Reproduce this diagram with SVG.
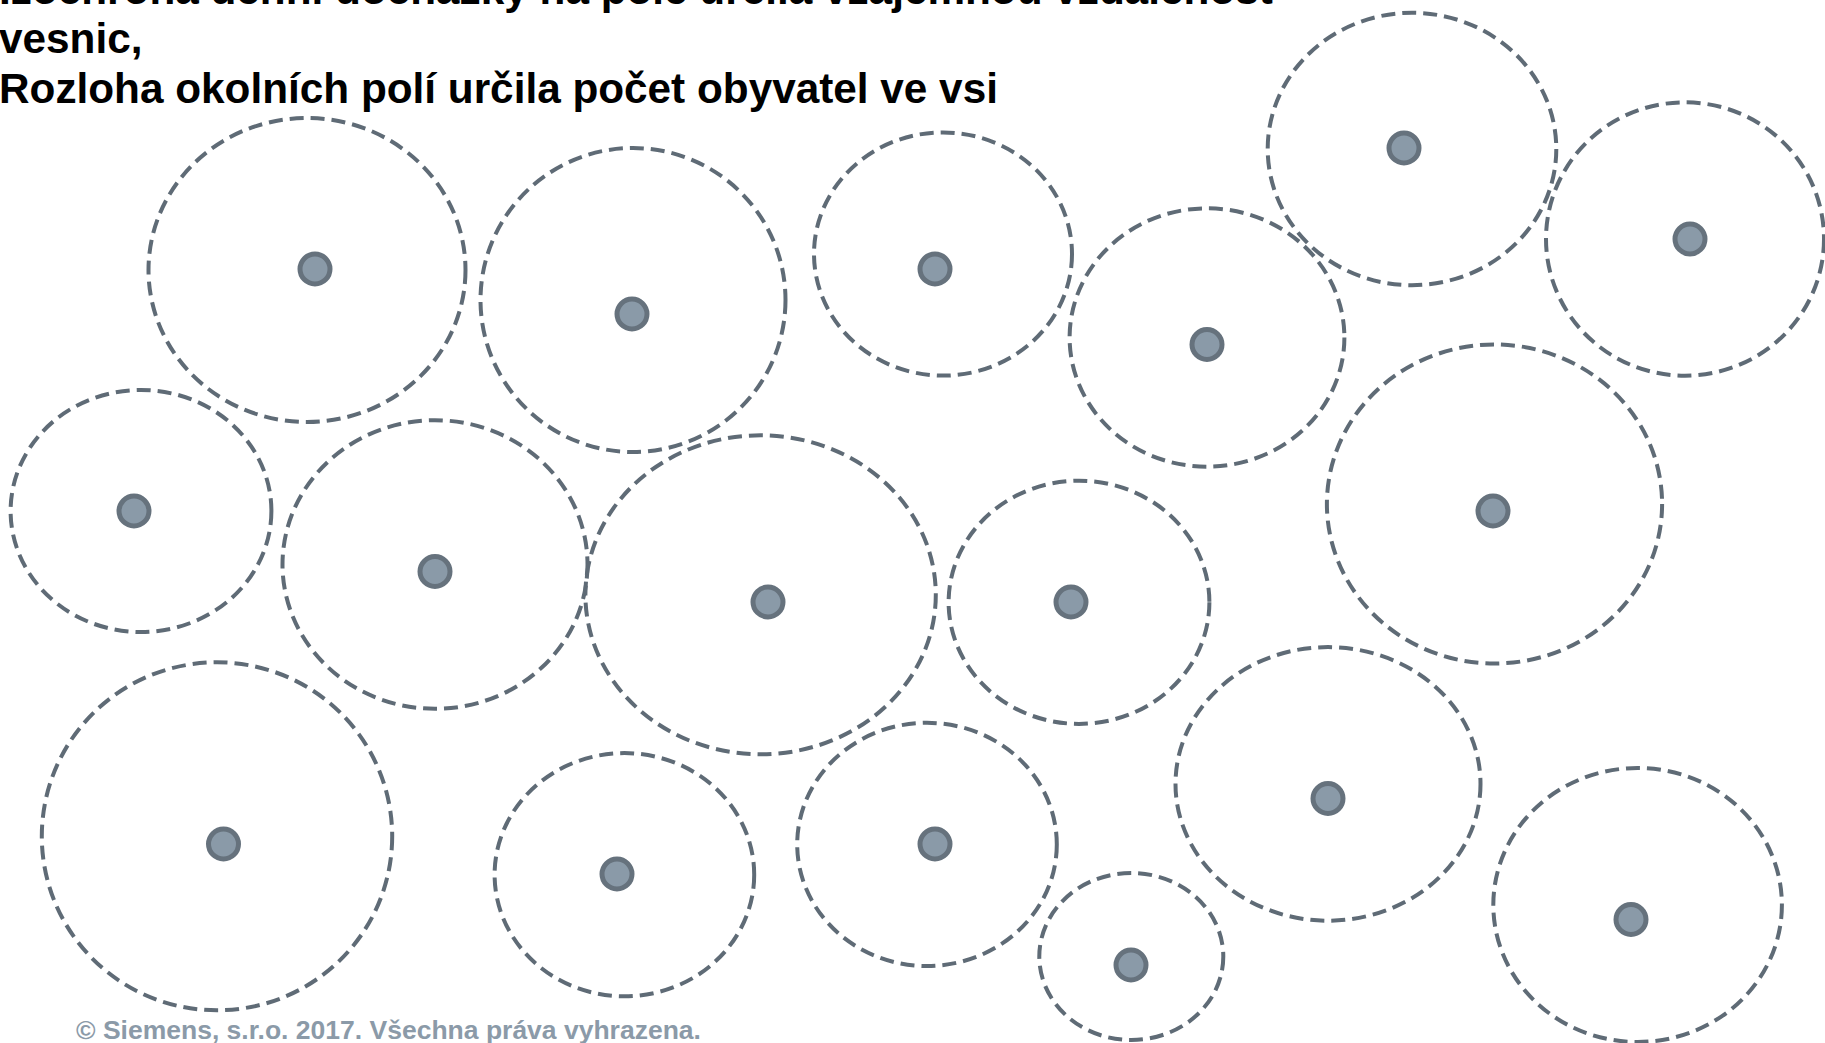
<svg xmlns="http://www.w3.org/2000/svg" width="1825" height="1043" viewBox="0 0 1825 1043">
<style>
.title{font-family:"Liberation Sans",Arial,sans-serif;font-weight:bold;font-size:42.3px;fill:#000}
.foot{font-family:"Liberation Sans",Arial,sans-serif;font-weight:bold;font-size:26.5px;fill:#8b9aa8}
.field{fill:none;stroke:#5f6b76;stroke-width:4;stroke-dasharray:14 7}
.vil{fill:#8a9aa8;stroke:#66727d;stroke-width:5}
</style>
<rect width="1825" height="1043" fill="#fff"/>
<g id="title">
<text class="title" x="-1" y="4">Izochrona denní docházky na pole určila vzájemnou vzdálenost</text>
<text class="title" x="-1" y="53">vesnic,</text>
<text class="title" x="-1" y="103">Rozloha okolních polí určila počet obyvatel ve vsi</text>
</g>
<g id="village1"><ellipse class="field" cx="307" cy="270" rx="158.5" ry="152"/><circle class="vil" cx="315" cy="269" r="15"/></g>
<g id="village2"><ellipse class="field" cx="633" cy="300" rx="152.5" ry="152"/><circle class="vil" cx="632" cy="314" r="15"/></g>
<g id="village3"><ellipse class="field" cx="943" cy="254" rx="129" ry="121.6"/><circle class="vil" cx="935" cy="269" r="15"/></g>
<g id="village4"><ellipse class="field" cx="1207" cy="337.5" rx="137.4" ry="129.2"/><circle class="vil" cx="1207" cy="344.5" r="15"/></g>
<g id="village5"><ellipse class="field" cx="1412" cy="149" rx="144.3" ry="136.2"/><circle class="vil" cx="1404" cy="148" r="15"/></g>
<g id="village6"><ellipse class="field" cx="1685" cy="239" rx="139" ry="136.7"/><circle class="vil" cx="1690" cy="239" r="15"/></g>
<g id="village7"><ellipse class="field" cx="141" cy="511" rx="130.4" ry="121"/><circle class="vil" cx="134" cy="511" r="15"/></g>
<g id="village8"><ellipse class="field" cx="435" cy="564.5" rx="152.5" ry="144.3"/><circle class="vil" cx="435" cy="571.5" r="15"/></g>
<g id="village9"><ellipse class="field" cx="760.6" cy="594.8" rx="175.2" ry="159.5"/><circle class="vil" cx="768" cy="602" r="15"/></g>
<g id="village10"><ellipse class="field" cx="1079" cy="602.3" rx="130.4" ry="121.6"/><circle class="vil" cx="1071" cy="602" r="15"/></g>
<g id="village11"><ellipse class="field" cx="1494.5" cy="504" rx="167.6" ry="159.5"/><circle class="vil" cx="1493" cy="511" r="15"/></g>
<g id="village12"><ellipse class="field" cx="217" cy="836.3" rx="175.2" ry="174"/><circle class="vil" cx="223.5" cy="844" r="15"/></g>
<g id="village13"><ellipse class="field" cx="624.4" cy="874.7" rx="129.8" ry="121.6"/><circle class="vil" cx="617" cy="874" r="15"/></g>
<g id="village14"><ellipse class="field" cx="927" cy="844.4" rx="129.8" ry="121.6"/><circle class="vil" cx="935" cy="844" r="15"/></g>
<g id="village15"><ellipse class="field" cx="1328" cy="783.9" rx="152.5" ry="136.8"/><circle class="vil" cx="1328" cy="798.5" r="15"/></g>
<g id="village16"><ellipse class="field" cx="1131.3" cy="956.5" rx="92" ry="83.5"/><circle class="vil" cx="1131" cy="965" r="15"/></g>
<g id="village17"><ellipse class="field" cx="1637.6" cy="905" rx="144.3" ry="137"/><circle class="vil" cx="1631" cy="919.5" r="15"/></g>
<g id="connectors"/>
<text class="foot" x="76" y="1039">© Siemens, s.r.o. 2017. Všechna práva vyhrazena.</text>
</svg>
